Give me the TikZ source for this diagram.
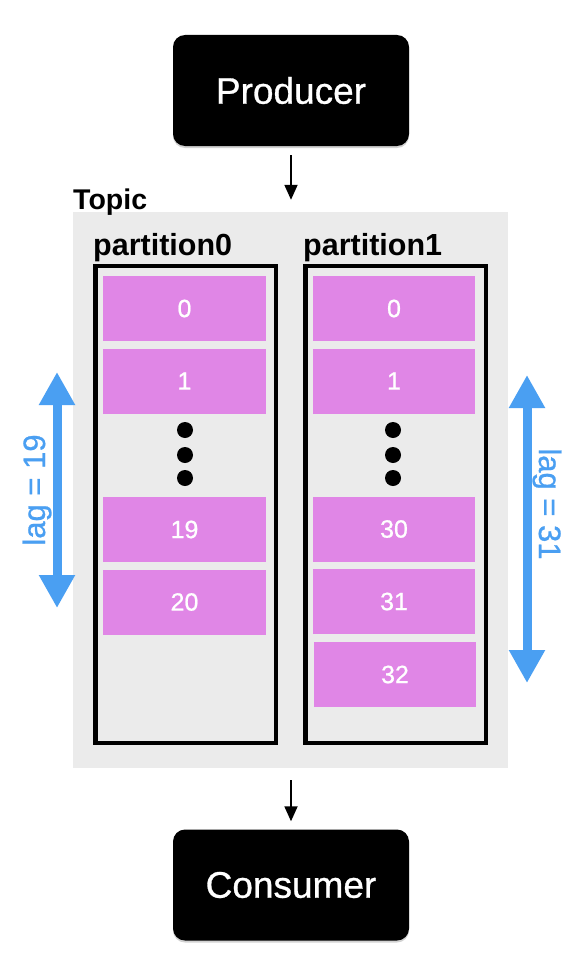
\documentclass[tikz,border=0pt]{standalone}
\usepackage{fontspec}
\setmainfont{Liberation Sans}
\newfontfamily\medfont[FakeBold=0.8]{Liberation Sans}
\usetikzlibrary{arrows.meta,shadows}
\definecolor{cellpink}{HTML}{E086E6}
\definecolor{topicgray}{HTML}{EBEBEB}
\definecolor{lagblue}{HTML}{4A9FF2}
\begin{document}
\begin{tikzpicture}[x=1pt,y=-1pt,
  blackbox/.style={fill=black, rounded corners=12pt, text=white,
    font=\medfont\fontsize{37}{40}\selectfont, minimum width=236pt, minimum height=111pt,
    inner sep=0pt, drop shadow={shadow xshift=0pt, shadow yshift=-2pt, opacity=0.35}},
  partbox/.style={draw=black, line width=4.5pt, minimum width=180.5pt,
    minimum height=477pt, inner sep=0pt},
  toplabel/.style={font=\bfseries\fontsize{28.5}{30}\selectfont, inner sep=0pt, anchor=base west},
  partlabel/.style={font=\bfseries\fontsize{30.5}{32}\selectfont, inner sep=0pt, anchor=base west},
  cell/.style={fill=cellpink, text=white, font=\medfont\fontsize{25}{28}\selectfont,
    minimum height=65pt, inner sep=0pt},
  cella/.style={cell, minimum width=163pt},
  cellb/.style={cell, minimum width=162pt},
  dotmark/.style={fill=black, circle, minimum size=16pt, inner sep=0pt},
  flow/.style={-{Triangle[width=13pt,length=15pt]}, line width=1.8pt, black},
  lag/.style={{Triangle[width=34pt,length=33pt]}-{Triangle[width=34pt,length=33pt]},
    line width=9pt, lagblue},
  laglabel/.style={text=lagblue, font=\medfont\fontsize{31}{34}\selectfont, inner sep=0pt}
]
\useasboundingbox (0,0) rectangle (584,974);
\fill[white] (0,0) rectangle (584,974);

\node[blackbox] (producer) at (291,90.5) {Producer};
\node[blackbox] (consumer) at (291,885) {Consumer};

\node[fill=topicgray, minimum width=435pt, minimum height=556pt, inner sep=0pt] (topic) at (290.5,490) {};
\node[toplabel] (topiclabel) at (73,209) {Topic};

\node[partlabel] (p0label) at (93,255) {partition0};
\node[partlabel] (p1label) at (303,255) {partition1};

\node[partbox] (p0) at (185.5,504.6) {};
\node[partbox] (p1) at (395.5,504.6) {};

% partition0 cells
\node[cella] (a0) at (184.5,308.5) {0};
\node[cella] (a1) at (184.5,381) {1};
\node[cella] (a19) at (184.5,529.5) {19};
\node[cella] (a20) at (184.5,602) {20};
\node[dotmark] (ad1) at (185,430) {};
\node[dotmark] (ad2) at (185,455) {};
\node[dotmark] (ad3) at (185,478) {};

% partition1 cells
\node[cellb] (b0) at (394,308.5) {0};
\node[cellb] (b1) at (394,381) {1};
\node[cellb] (b30) at (394,529) {30};
\node[cellb] (b31) at (394,601.5) {31};
\node[cellb] (b32) at (395,674.5) {32};
\node[dotmark] (bd1) at (393,430) {};
\node[dotmark] (bd2) at (393,455) {};
\node[dotmark] (bd3) at (393,478) {};

% flow arrows
\draw[flow] ([yshift=-9pt]producer.south) -- ([yshift=12pt]producer.south |- topic.north);
\draw[flow] ([yshift=-12pt]consumer.north |- topic.south) -- ([yshift=8pt]consumer.north);

% lag arrows
\coordinate (l0top) at (57,372);
\coordinate (l0bot) at (57,608);
\coordinate (l1top) at (527,375);
\coordinate (l1bot) at (527,683);
\draw[lag] (l0top) -- (l0bot);
\draw[lag] (l1top) -- (l1bot);
\node[laglabel, rotate=90] (lag0) at (37,490) {lag = 19};
\node[laglabel, rotate=-90] (lag1) at (547,504) {lag = 31};
\end{tikzpicture}
\end{document}
